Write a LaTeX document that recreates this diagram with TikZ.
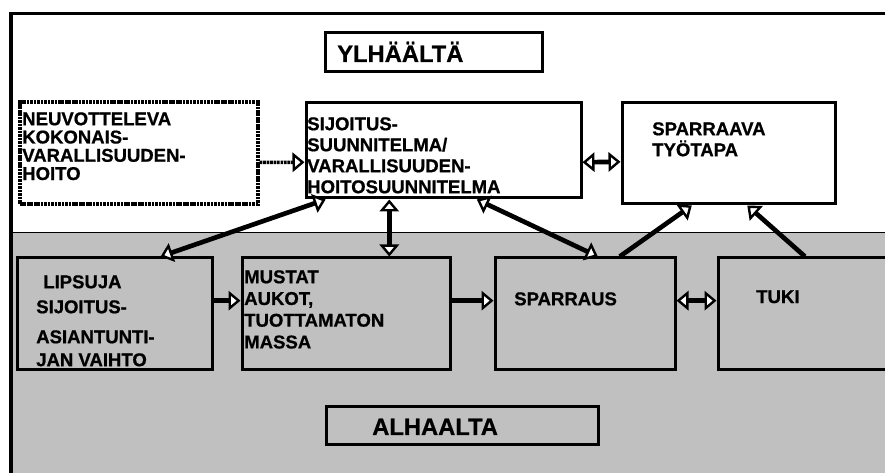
\documentclass[tikz,border=0pt]{standalone}
\usepackage{fontspec}
\setmainfont{Liberation Sans}[BoldFeatures={FakeBold=0.8}]
\usetikzlibrary{arrows.meta,calc,fit}

\definecolor{bandgray}{HTML}{C0C0C0}

\tikzset{
  box/.style={draw, line width=2.25pt, inner sep=0pt},
  dotbox/.style={box, line width=2.6pt, dash pattern=on 2pt off 0.6pt},
  txt/.style={anchor=north west, inner sep=0pt, align=left,
    font=\bfseries\fontsize{13.9}{15.75}\selectfont},
  title/.style={anchor=base west, inner sep=0pt,
    font=\bfseries\fontsize{17.8}{20}\selectfont},
  openhead/.tip={Triangle[fill=white, length=9pt, width=14.5pt, line width=1.8pt]},
  conn/.style={line width=3.5pt, openhead-openhead},
  oneway/.style={line width=3.5pt, -openhead},
  dotline/.style={line width=2.6pt, dash pattern=on 2pt off 0.6pt, -openhead},
}

\begin{document}
\begin{tikzpicture}[x=0.75pt, y=-0.75pt]
\useasboundingbox (0,0) rectangle (885,473);
\clip (0,0) rectangle (885,473);

% tausta
\fill[bandgray] (11,232) rectangle (900,490);
\draw[line width=0.5pt] (11,232) -- (900,232);
\draw[line width=2.8pt] (11,490) -- (11,13.5) -- (900,13.5);

% ylhäältä
\node[box, fit={(325,33) (542,72)}] (ylh) {};
\node[title] (ylhtxt) at (337,62) {YLHÄÄLTÄ};

% ylarivi
\node[dotbox, fit={(20,102) (258,204)}] (neuvo) {};
\node[txt, font=\bfseries\fontsize{13.9}{13.7}\selectfont] (neuvotxt) at (22,112)
  {NEUVOTTELEVA\\KOKONAIS-\\VARALLISUUDEN-\\HOITO};

\node[box, fit={(306,103) (581,198)}] (sijoitus) {};
\node[txt] (sijoitustxt) at (307,117)
  {SIJOITUS-\\SUUNNITELMA/\\VARALLISUUDEN-\\HOITOSUUNNITELMA};

\node[box, fit={(622,103) (835,204)}] (tyotapa) {};
\node[txt] (tyotapatxt) at (652,122) {SPARRAAVA\\TYÖTAPA};

% alarivi
\node[box, fit={(17,258) (212,370)}] (lipsuja) {};
\node[txt] (lipsujatxt) at (36,275)
  {\hspace*{5.25pt}LIPSUJA\\[3pt]SIJOITUS-\\[6.75pt]ASIANTUNTI-\\[1.5pt]JAN VAIHTO};

\node[box, fit={(242,258) (450,370)}] (mustat) {};
\node[txt, font=\bfseries\fontsize{13.9}{16.3}\selectfont] (mustattxt) at (244,270)
  {MUSTAT\\AUKOT,\\TUOTTAMATON\\MASSA};

\node[box, fit={(495,258) (675,370)}] (sparraus) {};
\node[txt] (sparraustxt) at (514,292) {SPARRAUS};

\node[box, fit={(718,258) (900,370)}] (tuki) {};
\node[txt] (tukitxt) at (756,290) {TUKI};

% alhaalta
\node[box, fit={(326,407) (598,445)}] (alh) {};
\node[title] (alhtxt) at (372,435) {ALHAALTA};

% nuolet ylhaalla
\draw[dotline] ($(neuvo.north east)!.59!(neuvo.south east)$)
  -- ($(sijoitus.north west)!.62!(sijoitus.south west)$);
\draw[conn] ($(sijoitus.north east)!.62!(sijoitus.south east)$)
  -- ($(tyotapa.north west)!.58!(tyotapa.south west)$);

% nuolet rivien valilla
\draw[conn] ($(lipsuja.north west)!.733!(lipsuja.north east)$)
  -- ($(sijoitus.south west)!.076!(sijoitus.south east)$);
\draw[conn] ($(sijoitus.south west)!.305!(sijoitus.south east)$) coordinate (s1)
  -- (s1 |- mustat.north);
\draw[conn] ($(sparraus.north west)!.57!(sparraus.north east)$)
  -- ($(sijoitus.south west)!.62!(sijoitus.south east)$);
\draw[oneway] ($(sparraus.north west)!.69!(sparraus.north east)$)
  -- ($(tyotapa.south west)!.33!(tyotapa.south east)$);
\draw[oneway] ($(tuki.north west)!.478!(tuki.north east)$)
  -- ($(tyotapa.south west)!.587!(tyotapa.south east)$);

% nuolet alhaalla
\draw[oneway] ($(lipsuja.north east)!.384!(lipsuja.south east)$) coordinate (l1)
  -- (l1 -| mustat.west);
\draw[oneway] (l1 -| mustat.east) -- (l1 -| sparraus.west);
\draw[conn] (l1 -| sparraus.east) -- (l1 -| tuki.west);

\end{tikzpicture}
\end{document}
